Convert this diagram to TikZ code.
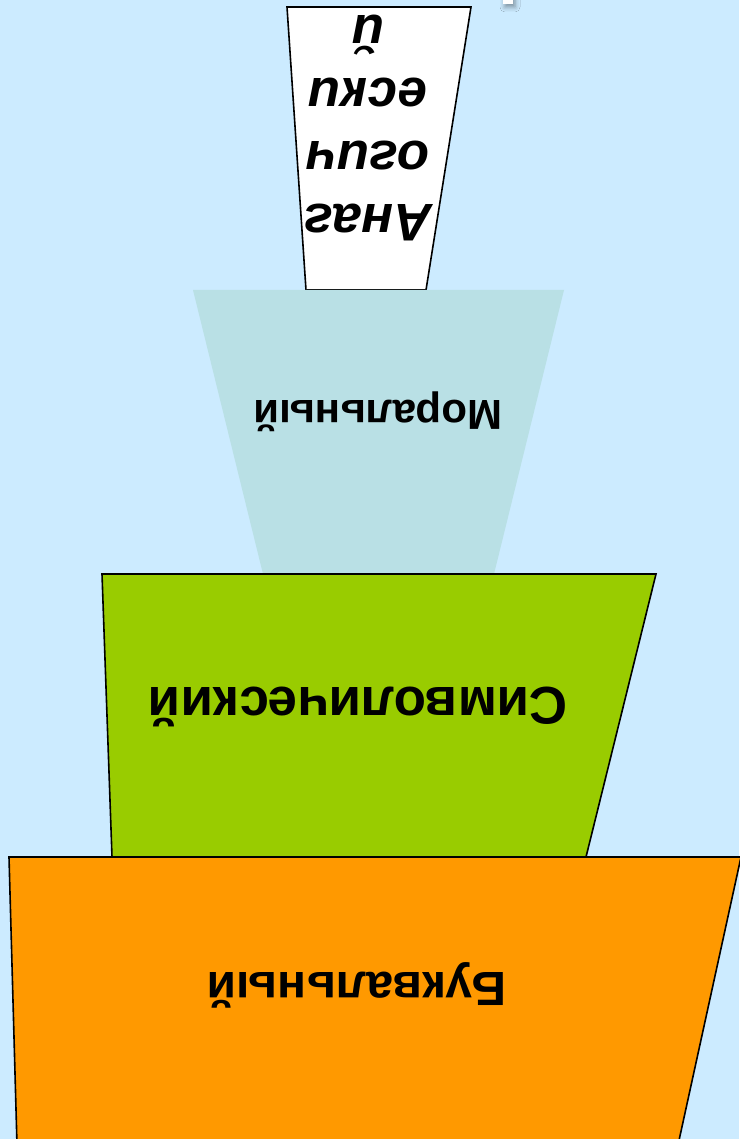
\documentclass[tikz,border=0pt]{standalone}
\usepackage{fontspec}
\setmainfont{Liberation Sans}
\usetikzlibrary{shadows.blur}

\definecolor{skyback}{RGB}{204,235,255}
\definecolor{moralfill}{RGB}{185,224,229}
\definecolor{symbfill}{RGB}{153,204,0}
\definecolor{litfill}{RGB}{255,153,0}

\tikzset{
  tier/.style={draw=black, line width=1.6pt, line join=miter},
  tiertext/.style={rotate=180, anchor=base, inner sep=0pt, font=\bfseries}
}

\begin{document}
\begin{tikzpicture}[x=1pt, y=-1pt]
  \fill[skyback] (0,0) rectangle (739,1139);
  \useasboundingbox (0,0) rectangle (739,1139);
  % bit of something cut off at the top
  \fill[white, blur shadow={shadow xshift=2pt, shadow yshift=-3pt, shadow blur radius=5pt}] (503,-6) rectangle (513,4);
  % anagogical
  \filldraw[tier, fill=white] (287,7) -- (471,7) -- (426,290) -- (306,290) -- cycle;
  % moral
  \fill[moralfill] (193,290) -- (564,290) -- (494,574) -- (263,574) -- cycle;
  % symbolic
  \filldraw[tier, fill=symbfill] (102,574) -- (656,574) -- (586,857) -- (112,857) -- cycle;
  % literal
  \filldraw[tier, fill=litfill] (9,857) -- (741,857) -- (678,1145) -- (17,1145) -- cycle;

  \node[tiertext, font=\bfseries\fontsize{48}{58}\selectfont] (lit) at (357,972) {Буквальный};
  \node[tiertext, font=\bfseries\fontsize{53}{62}\selectfont] (symb) at (358,687) {Символический};
  \node[tiertext, font=\bfseries\fontsize{42}{50}\selectfont] (moral) at (378,400) {Моральный};
  \node[rotate=180, anchor=center, inner sep=0pt, align=center, font=\bfseries\itshape\fontsize{53}{63}\selectfont] (anag) at (368,128) {Анаг\\огич\\ески\\й};
\end{tikzpicture}
\end{document}
